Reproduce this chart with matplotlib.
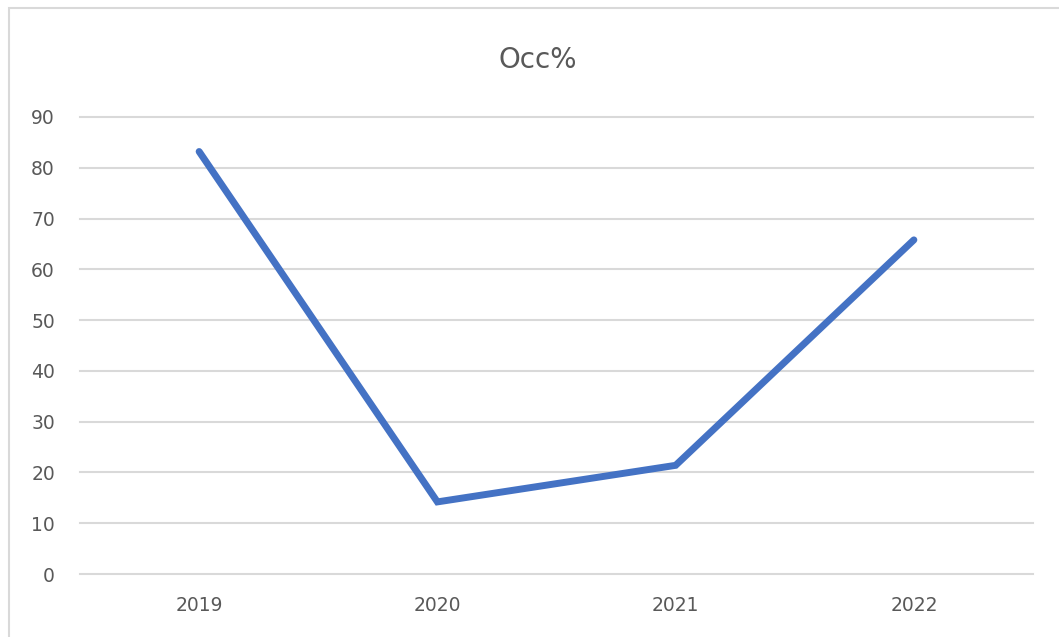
import matplotlib
matplotlib.use("Agg")
import matplotlib.pyplot as plt
from matplotlib.patches import Rectangle

# data
years = ["2019", "2020", "2021", "2022"]
occ = [83.2, 14.2, 21.4, 65.8]
yticks = [0, 10, 20, 30, 40, 50, 60, 70, 80, 90]

grey_text = "#595959"
grid_col = "#D9D9D9"

fig = plt.figure(figsize=(10.59, 6.37), dpi=100)
fig.patch.set_facecolor("white")

# chart border (light grey, cropped at right/bottom in the reference)
fig.patches.append(Rectangle((9 / 1059, -0.1), 1.2, 1 - 8 / 637 + 0.1,
                             transform=fig.transFigure, fill=False,
                             edgecolor=grid_col, linewidth=1.5))

ax = fig.add_axes([80 / 1059, 1 - 574 / 637, (1033 - 80) / 1059, (574 - 117) / 637])
x = list(range(len(years)))
ax.plot(x, occ, color="#4472C4", linewidth=5, solid_capstyle="round",
        solid_joinstyle="miter", zorder=3)

ax.set_xlim(-0.5, len(years) - 0.5)
ax.set_ylim(0, 90)
ax.set_yticks(yticks)
ax.set_xticks(x)
ax.set_xticklabels(years)
ax.yaxis.grid(True, color=grid_col, linewidth=1.5)
for gl in ax.get_ygridlines():
    gl.set_clip_on(False)
ax.set_axisbelow(True)
for s in ax.spines.values():
    s.set_visible(False)
ax.tick_params(axis="both", length=0, colors=grey_text, labelsize=13.5)
ax.tick_params(axis="y", pad=18)
ax.tick_params(axis="x", pad=16)

fig.text(538 / 1059, 1 - 60 / 637, "Occ%", ha="center", va="center",
         fontsize=20, color=grey_text)

fig.savefig("out.png", dpi=100)
